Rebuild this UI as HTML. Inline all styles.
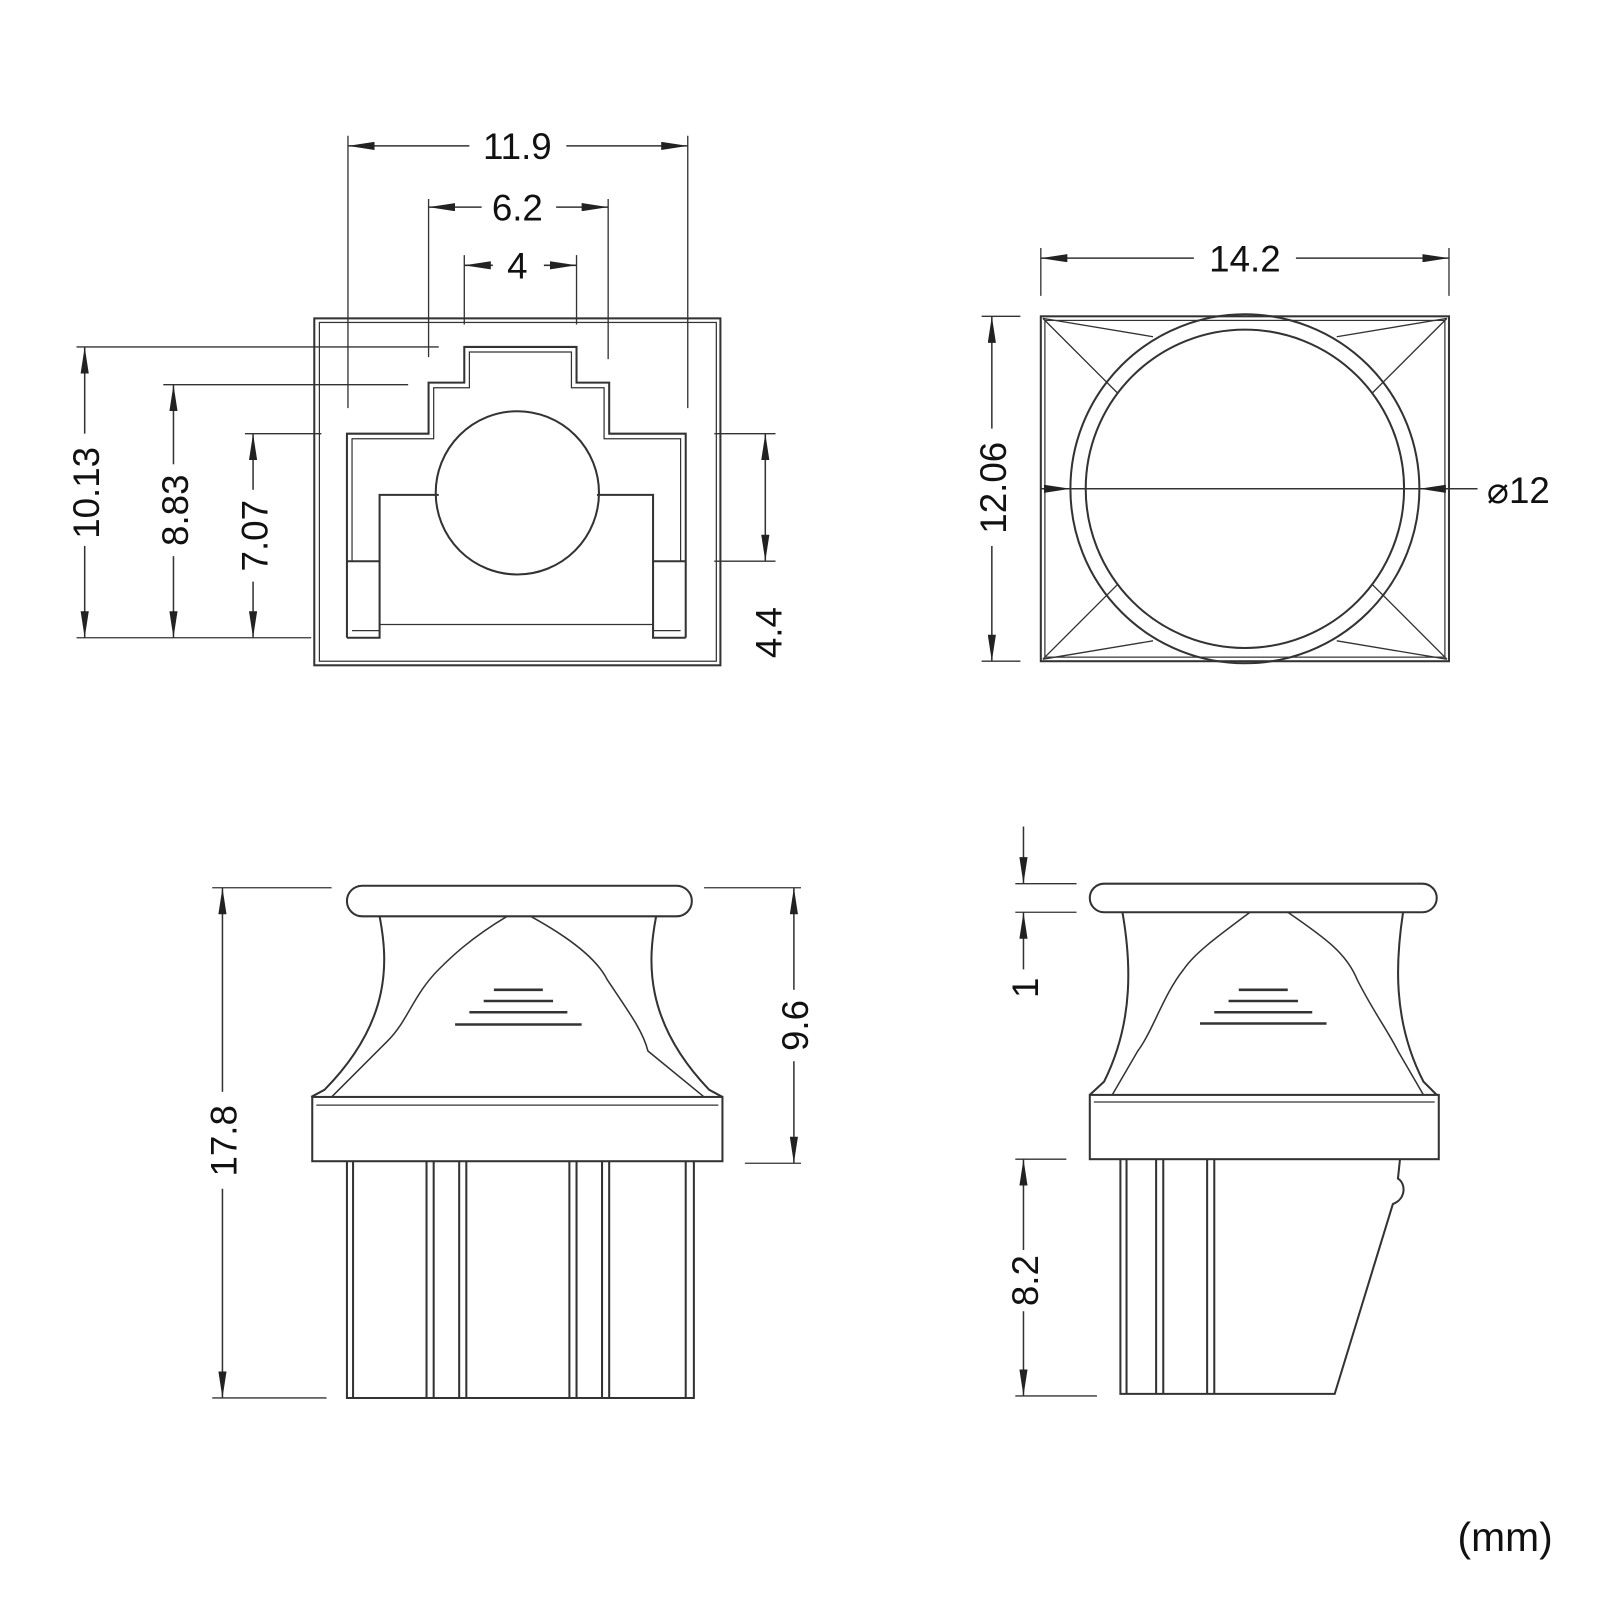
<!DOCTYPE html>
<html><head><meta charset="utf-8"><style>html,body{margin:0;padding:0;background:#fff}svg{display:block}</style></head>
<body>
<svg width="1600" height="1600" viewBox="0 0 1568 1568" xmlns="http://www.w3.org/2000/svg">
<defs>
<marker id="a" viewBox="0 0 26 8" refX="26" refY="4" markerWidth="26" markerHeight="8" markerUnits="userSpaceOnUse" orient="auto-start-reverse"><path d="M0,0 L26,4 L0,8 Z" fill="#222"/></marker>
</defs>
<g fill="none" stroke="#333" stroke-width="2">
<!-- TOP LEFT VIEW -->
<rect x="308" y="312" width="398" height="340"/>
<rect x="313" y="316" width="389" height="332" stroke-width="1.2"/>
<path d="M340,625 V425 H420 V375 H455 V340 H565 V375 H597 V425 H672 V625"/>
<path d="M345,550 V430 H425 V380 H460 V345 H560 V380 H592 V430 H667 V550" stroke-width="1.2"/>
<path d="M340,625 H372 V485 H430 M585,485 H640 V625 H672"/>
<path d="M340,550 H372 M640,550 H672"/>
<path d="M372,612 H640 M345,618 H372 M640,618 H667" stroke-width="1.2"/>
<circle cx="507" cy="483" r="80"/>
<!-- dims top-left -->
<g stroke-width="1.3">
<path d="M341,133 V400 M674,133 V400 M420,195 V350 M596,195 V352 M455,250 V318 M565,250 V318"/>
<path d="M75,340 H430 M75,625 H305 M160,377 H400 M240,425 H315 M700,425 H760 M700,550 H760"/>
</g>
<g stroke-width="1.5" marker-start="url(#a)" marker-end="url(#a)">
<path d="M341,143 H460" marker-end="none"/><path d="M555,143 H674" marker-start="none"/>
<path d="M420,203 H472" marker-end="none"/><path d="M545,203 H596" marker-start="none"/>
<path d="M455,260 H483" marker-end="none"/><path d="M533,260 H565" marker-start="none"/>
<path d="M83,340 V425" marker-end="none"/><path d="M83,535 V625" marker-start="none"/>
<path d="M170,377 V455" marker-end="none"/><path d="M170,545 V625" marker-start="none"/>
<path d="M248,425 V480" marker-end="none"/><path d="M248,570 V625" marker-start="none"/>
<path d="M750,425 V550"/>
</g>
<!-- TOP RIGHT VIEW -->
<rect x="1020" y="310" width="400" height="338"/>
<rect x="1024" y="314" width="392" height="330" stroke-width="1.2"/>
<circle cx="1220" cy="479" r="171"/>
<circle cx="1220" cy="479" r="156"/>
<path d="M1022,312 L1130,330 M1022,312 L1095,385 M1418,312 L1310,330 M1418,312 L1345,385 M1022,646 L1130,628 M1022,646 L1095,573 M1418,646 L1310,628 M1418,646 L1345,573" stroke-width="1.3"/>
<g stroke-width="1.3"><path d="M1020,243 V290 M1420,243 V290 M962,310 H1000 M962,648 H1000"/></g>
<g stroke-width="1.5">
<path d="M1020,253 H1170" marker-start="url(#a)"/><path d="M1270,253 H1420" marker-end="url(#a)"/>
<path d="M972,310 V420" marker-start="url(#a)"/><path d="M972,535 V648" marker-end="url(#a)"/>
<path d="M1020,479 H1049" marker-end="url(#a)"/><path d="M1049,479 H1391"/><path d="M1420,479 H1391" marker-end="url(#a)"/><path d="M1420,479 H1448"/>
</g>
<!-- BOTTOM LEFT VIEW -->
<rect x="340" y="868" width="338" height="30" rx="15"/>
<path d="M372,898 C380,940 385,1000 318,1068 L305,1075 M643,898 C635,940 630,1000 695,1068 L708,1075"/>
<path d="M497,898 C460,920 440,940 430,950 C405,975 400,1000 380,1020 L325,1075 M520,898 C560,920 585,940 595,960 C615,990 630,1010 635,1030 L690,1075" stroke-width="1.5"/>
<rect x="306" y="1075" width="402" height="63"/>
<path d="M310,1083 H704" stroke-width="1.2"/>
<path d="M340,1138 V1370 H680 V1138 M346,1138 V1370 M672,1138 V1370 M418,1138 V1370 M425,1138 V1370 M450,1138 V1370 M457,1138 V1370 M558,1138 V1370 M565,1138 V1370 M590,1138 V1370 M597,1138 V1370"/>
<path d="M484,970 H532 M474,981 H542 M460,992 H556 M446,1004 H570" stroke-width="2.5"/>
<g stroke-width="1.3"><path d="M208,870 H325 M208,1370 H320 M690,870 H785 M730,1140 H785"/></g>
<g stroke-width="1.5">
<path d="M218,870 V1070" marker-start="url(#a)"/><path d="M218,1165 V1370" marker-end="url(#a)"/>
<path d="M778,870 V970" marker-start="url(#a)"/><path d="M778,1040 V1140" marker-end="url(#a)"/>
</g>
<!-- BOTTOM RIGHT VIEW -->
<rect x="1068" y="866" width="340" height="28" rx="14"/>
<path d="M1100,894 C1108,940 1112,1000 1082,1060 L1068,1073 M1375,894 C1368,940 1364,1000 1395,1060 L1408,1073"/>
<path d="M1225,894 C1190,920 1170,935 1160,950 C1140,975 1130,1010 1115,1030 L1090,1073 M1262,894 C1300,920 1320,935 1330,960 C1345,990 1360,1010 1370,1030 L1395,1073" stroke-width="1.5"/>
<rect x="1068" y="1073" width="342" height="63"/>
<path d="M1072,1080 H1406" stroke-width="1.2"/>
<path d="M1098,1136 V1366 H1308 L1365,1180 C1378,1175 1378,1160 1370,1155 L1372,1136 M1104,1136 V1366 M1133,1136 V1366 M1140,1136 V1366 M1183,1136 V1366 M1190,1136 V1366"/>
<path d="M1214,970 H1262 M1204,981 H1272 M1190,992 H1286 M1176,1003 H1300" stroke-width="2.5"/>
<g stroke-width="1.3"><path d="M995,866 H1055 M995,894 H1055 M995,1136 H1045 M995,1368 H1075"/></g>
<g stroke-width="1.5">
<path d="M1003,810 V866" marker-end="url(#a)"/>
<path d="M1003,950 V894" marker-end="url(#a)"/>
<path d="M1003,1136 V1225" marker-start="url(#a)"/><path d="M1003,1285 V1368" marker-end="url(#a)"/>
</g>
</g>
<g font-family="Liberation Sans, sans-serif" font-size="36" fill="#111" text-anchor="middle">
<text x="507" y="156">11.9</text>
<text x="507" y="216">6.2</text>
<text x="507" y="273">4</text>
<text x="1220" y="266">14.2</text>
<text x="1488" y="493">⌀12</text>
<text transform="translate(97,483) rotate(-90)">10.13</text>
<text transform="translate(184,500) rotate(-90)">8.83</text>
<text transform="translate(262,525) rotate(-90)">7.07</text>
<text transform="translate(766,620) rotate(-90)">4.4</text>
<text transform="translate(986,478) rotate(-90)">12.06</text>
<text transform="translate(232,1118) rotate(-90)">17.8</text>
<text transform="translate(792,1005) rotate(-90)">9.6</text>
<text transform="translate(1017,968) rotate(-90)">1</text>
<text transform="translate(1017,1255) rotate(-90)">8.2</text>
<text x="1475" y="1520" font-size="40">(mm)</text>
</g>
</svg>
</body></html>
